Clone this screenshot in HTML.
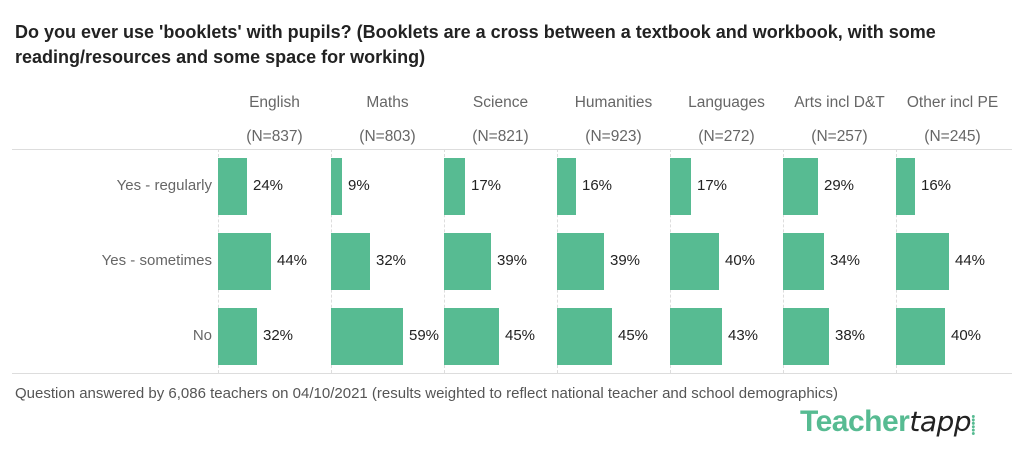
<!DOCTYPE html>
<html><head><style>
body{margin:0;width:1024px;height:455px;background:#fff;font-family:"Liberation Sans",sans-serif;position:relative;overflow:hidden}
.a{position:absolute;white-space:nowrap}
.t{left:15px;font-weight:bold;font-size:18px;color:#222}
.h{font-size:15.5px;color:#666;text-align:center;width:113px}
.r{font-size:15px;color:#666;text-align:right;width:200px;left:12px}
.b{position:absolute;background:#57bb92}
.v{font-size:15px;color:#222}
.vl{position:absolute;top:149px;height:224px;border-left:1px dashed #ddd}
</style></head><body>
<div class="a t" style="top:22px">Do you ever use 'booklets' with pupils? (Booklets are a cross between a textbook and workbook, with some</div>
<div class="a t" style="top:47px">reading/resources and some space for working)</div>
<div style="position:absolute;left:12px;top:149px;width:1000px;border-top:1px solid #ddd"></div>
<div style="position:absolute;left:12px;top:373px;width:1000px;border-top:1px solid #ddd"></div>
<div class="a r" style="top:177px">Yes - regularly</div>
<div class="a r" style="top:252px">Yes - sometimes</div>
<div class="a r" style="top:327px">No</div>
<div id="c"></div>
<div class="a" style="left:15px;top:385px;font-size:15px;color:#555">Question answered by 6,086 teachers on 04/10/2021 (results weighted to reflect national teacher and school demographics)</div>
<div class="a" style="left:800px;top:405px;font-size:30px;font-weight:bold;color:#57bb92;letter-spacing:-0.5px">Teacher<span style="color:#222;font-weight:normal;font-style:italic;font-family:'DejaVu Sans',sans-serif;font-size:28px">tapp</span><span style="color:#57bb92;font-size:18px">⸽</span></div>
<script>
var d=[["English","837",24,44,32],["Maths","803",9,32,59],["Science","821",17,39,45],["Humanities","923",16,39,45],["Languages","272",17,40,43],["Arts incl D&T","257",29,34,38],["Other incl PE","245",16,44,40]];
var h="",ys=[158,233,308];
d.forEach(function(p,i){var x=218+i*113;
h+='<div class="a h" style="left:'+(x)+'px;top:94px">'+p[0].replace("&","&amp;")+'</div>';
h+='<div class="a h" style="left:'+(x)+'px;top:128px">(N='+p[1]+')</div>';
h+='<div class="vl" style="left:'+x+'px"></div>';
for(var j=0;j<3;j++){var w=Math.round(p[2+j]*1.215);
h+='<div class="b" style="left:'+x+'px;top:'+ys[j]+'px;width:'+w+'px;height:57px"></div>';
h+='<div class="a v" style="left:'+(x+w+6)+'px;top:'+(ys[j]+19)+'px">'+p[2+j]+'%</div>';}
});
document.getElementById("c").innerHTML=h;
</script>
</body></html>
